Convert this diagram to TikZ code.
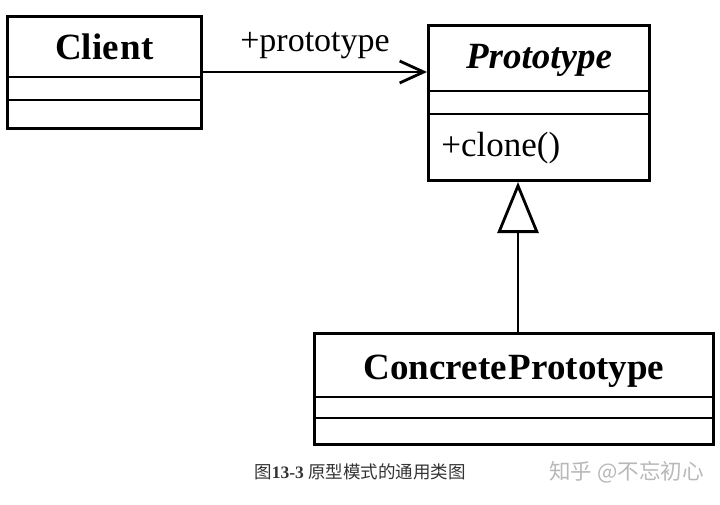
\documentclass[tikz,border=0pt]{standalone}
\usepackage{fontspec}
\setmainfont{Liberation Serif}
\newfontfamily\cjk{Noto Sans CJK SC}
\usetikzlibrary{arrows.meta,calc}
\begin{document}
\begin{tikzpicture}[x=1pt,y=-1pt,line width=2.8pt,
  classbox/.style={draw,line width=3pt,anchor=north west,inner sep=0pt},
  classtitle/.style={font=\fontsize{37}{42}\selectfont\bfseries},
  member/.style={font=\fontsize{35}{40}\selectfont,anchor=west,inner sep=0pt},
  divider/.style={line width=2.6pt},
  assoc/.style={-{Straight Barb[length=24pt,width=22pt]}},
  general/.style={-{Triangle[length=51pt,width=41pt,fill=white]}}]
\useasboundingbox (0,0) rectangle (720,505);

% Client
\node[classbox,minimum width=194pt,minimum height=112pt] (client) at (6,15) {};
\draw[divider] ($(client.north west)+(0,62)$) -- ($(client.north east)+(0,62)$);
\draw[divider] ($(client.north west)+(0,85)$) -- ($(client.north east)+(0,85)$);
\node[classtitle] (clientname) at ($(client.north)+(0,32)$) {Clie\kern2pt nt};

% Prototype
\node[classbox,minimum width=221pt,minimum height=155pt] (proto) at (427,24) {};
\draw[divider] ($(proto.north west)+(0,67)$) -- ($(proto.north east)+(0,67)$);
\draw[divider] ($(proto.north west)+(0,90)$) -- ($(proto.north east)+(0,90)$);
\node[classtitle,font=\fontsize{37}{42}\selectfont\bfseries\itshape] (protoname) at ($(proto.north)+(0,36)$) {Prototype};
\node[member] (clone) at ($(proto.north west)+(13,124)$) {+clone()};

% ConcretePrototype
\node[classbox,minimum width=399pt,minimum height=111pt] (concrete) at (313,332) {};
\draw[divider] ($(concrete.north west)+(0,65)$) -- ($(concrete.north east)+(0,65)$);
\draw[divider] ($(concrete.north west)+(0,86)$) -- ($(concrete.north east)+(0,86)$);
\node[classtitle] (concretename) at ($(concrete.north)+(0,39)$) {Concrete\kern2pt Prototype};

% association
\coordinate (ay) at (0,72);
\draw[assoc] (client.east |- ay) -- node[midway,yshift=26pt,font=\fontsize{34}{40}\selectfont] (rolelabel) {+prototype} (proto.west |- ay);

% generalization
\coordinate (gx) at (518,0);
\draw[general] (concrete.north -| gx) -- (proto.south -| gx);

% caption
\node[anchor=west,text=black!80,font=\fontsize{17.5}{20}\selectfont,inner sep=0pt] (caption) at (253,472) {{\cjk 图}\textbf{13-3} {\cjk 原型模式的通用类图}};
\node[anchor=west,text=black!28,font=\fontsize{21.5}{24}\selectfont\cjk,inner sep=0pt] (mark) at (548,472) {知乎 @不忘初心};
\end{tikzpicture}
\end{document}
